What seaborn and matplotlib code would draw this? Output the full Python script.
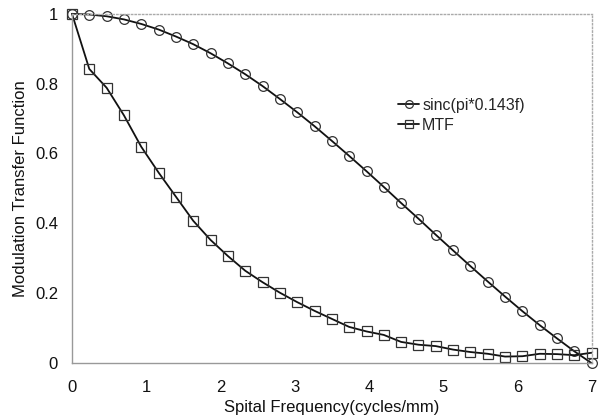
import matplotlib
matplotlib.use("Agg")
import matplotlib.pyplot as plt
import seaborn as sns
import pandas as pd

# spatial frequency samples (cycles/mm), 31 points from 0 to 7
freq = [0.0, 0.233, 0.467, 0.7, 0.933, 1.167, 1.4, 1.633, 1.867, 2.1,
        2.333, 2.567, 2.8, 3.033, 3.267, 3.5, 3.733, 3.967, 4.2, 4.433,
        4.667, 4.9, 5.133, 5.367, 5.6, 5.833, 6.067, 6.3, 6.533, 6.767, 7.0]

sinc_vals = [1.0, 0.998, 0.993, 0.984, 0.971, 0.955, 0.935, 0.913, 0.887, 0.858,
             0.827, 0.793, 0.756, 0.718, 0.678, 0.636, 0.593, 0.549, 0.504, 0.458,
             0.413, 0.367, 0.322, 0.277, 0.233, 0.190, 0.148, 0.108, 0.070, 0.033, -0.001]

mtf_vals = [1.0, 0.842, 0.788, 0.709, 0.619, 0.545, 0.476, 0.407, 0.352, 0.306,
            0.264, 0.231, 0.201, 0.174, 0.149, 0.126, 0.103, 0.090, 0.080, 0.060,
            0.052, 0.048, 0.038, 0.031, 0.026, 0.018, 0.019, 0.026, 0.025, 0.022, 0.029]

df = pd.DataFrame({
    "f": freq * 2,
    "value": sinc_vals + mtf_vals,
    "series": ["sinc(pi*0.143f)"] * len(freq) + ["MTF"] * len(freq),
})

sns.set_style("white")
plt.rcParams["font.family"] = ["Liberation Sans", "DejaVu Sans"]

fig = plt.figure(figsize=(6.05, 4.19), dpi=100)
ax = fig.add_axes([0.119, 0.134, 0.859, 0.833])

sns.lineplot(data=df, x="f", y="value", style="series", hue="series",
             palette=["#111111", "#111111"], markers=["o", "s"], dashes=False,
             markersize=7, markerfacecolor="none", markeredgecolor="#333333",
             markeredgewidth=0.9, linewidth=1.3, ax=ax, sort=False)

# let markers spill over the frame like the original
for line in ax.lines:
    line.set_clip_on(False)

ax.set_xlim(0, 7)
ax.set_ylim(0, 1)
ax.set_xticks(range(8))
ax.set_yticks([0, 0.2, 0.4, 0.6, 0.8, 1.0])
ax.set_yticklabels(["0", "0.2", "0.4", "0.6", "0.8", "1"])
ax.tick_params(axis="both", direction="in", length=3, color="#999999",
               labelsize=12, labelcolor="#111111")
ax.tick_params(axis="x", pad=12)
ax.tick_params(axis="y", pad=10)

for side in ["left", "bottom"]:
    ax.spines[side].set_color("#999999")
    ax.spines[side].set_linewidth(1.0)
for side in ["top", "right"]:
    ax.spines[side].set_color("#aaaaaa")
    ax.spines[side].set_linestyle(":")
    ax.spines[side].set_linewidth(1.0)

ax.set_xlabel("Spital Frequency(cycles/mm)", fontsize=12, labelpad=4, color="#111111")
ax.set_ylabel("Modulation Transfer Function", fontsize=12, labelpad=5, color="#111111")

leg = ax.legend(loc="upper left", bbox_to_anchor=(0.6, 0.8), frameon=False,
                fontsize=11.5, handlelength=1.3, handletextpad=0.2, labelspacing=0.3,
                markerscale=0.8)

fig.savefig("out.png", dpi=100)
